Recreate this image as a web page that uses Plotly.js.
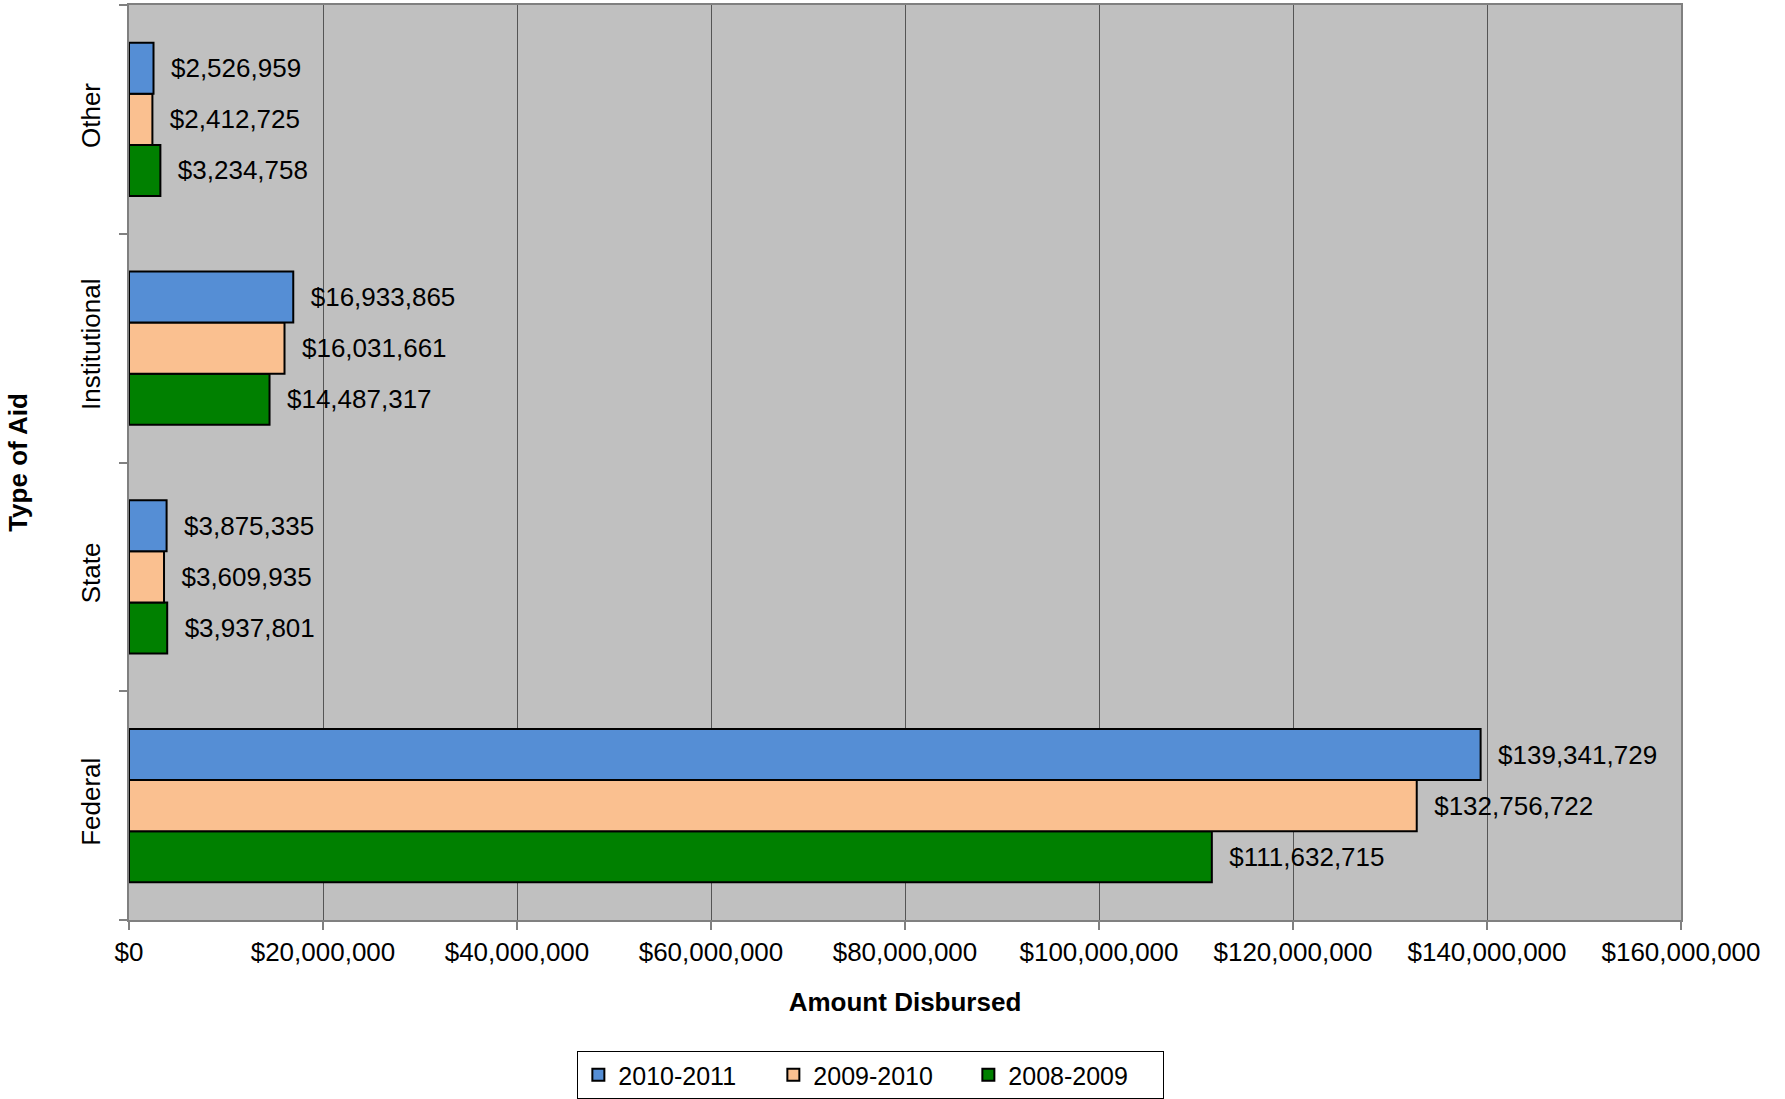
<!DOCTYPE html>
<html>
<head>
<meta charset="utf-8">
<script src="https://cdn.plot.ly/plotly-3.0.1.min.js"></script>
<style>html,body{margin:0;padding:0;background:#fff;}</style>
</head>
<body>
<div id="chart" style="width:1785px;height:1099px;"></div>
<script>
var categories = ['Federal', 'State', 'Institutional', 'Other'];
var seriesNames = ['2008-2009', '2009-2010', '2010-2011'];
var values2008_2009 = [111632715, 3937801, 14487317, 3234758];
var values2009_2010 = [132756722, 3609935, 16031661, 2412725];
var values2010_2011 = [139341729, 3875335, 16933865, 2526959];
var xTickVals = [0, 20000000, 40000000, 60000000, 80000000, 100000000, 120000000, 140000000, 160000000];
var xTickText = xTickVals.map(function (v) { return '$' + v.toLocaleString('en-US'); });

var colors = ['#008000', '#FAC090', '#558ED5'];
var allValues = [values2008_2009, values2009_2010, values2010_2011];
var FONT = '"Liberation Sans", Arial, sans-serif';

var traces = seriesNames.map(function (name, i) {
  return {
    type: 'bar',
    orientation: 'h',
    name: name,
    y: categories,
    x: allValues[i],
    marker: {color: colors[i], line: {color: '#000000', width: 2}},
    texttemplate: '  $%{x:,}',
    textposition: 'outside',
    constraintext: 'none',
    cliponaxis: false,
    textfont: {family: FONT, size: 26, color: '#000000'},
    hoverinfo: 'x+y+name'
  };
});

var layout = {
  width: 1785,
  height: 1099,
  margin: {l: 129, r: 104, t: 5, b: 179},
  paper_bgcolor: '#ffffff',
  plot_bgcolor: '#C0C0C0',
  font: {family: FONT, size: 26, color: '#000000'},
  barmode: 'group',
  bargap: 0.33,
  bargroupgap: 0,
  showlegend: true,
  legend: {
    orientation: 'h',
    traceorder: 'reversed',
    xref: 'paper',
    x: 0.478,
    xanchor: 'center',
    yref: 'container',
    y: 0,
    yanchor: 'bottom',
    bordercolor: '#000000',
    borderwidth: 1,
    bgcolor: '#ffffff',
    entrywidth: 150,
    font: {family: FONT, size: 25, color: '#000000'}
  },
  xaxis: {
    range: [0, 160000000],
    tickmode: 'array',
    tickvals: xTickVals,
    ticktext: xTickText,
    showgrid: true,
    gridcolor: '#555555',
    gridwidth: 1,
    zeroline: false,
    showline: true,
    linecolor: '#808080',
    linewidth: 2,
    mirror: true,
    ticks: 'outside',
    ticklen: 8,
    tickwidth: 2,
    tickcolor: '#808080',
    tickfont: {family: FONT, size: 26, color: '#000000'},
    title: {text: '<b>Amount Disbursed</b>', font: {family: FONT, size: 26, color: '#000000'}, standoff: 27},
    automargin: false,
    fixedrange: true
  },
  yaxis: {
    type: 'category',
    categoryorder: 'array',
    categoryarray: categories,
    showgrid: false,
    zeroline: false,
    showline: true,
    linecolor: '#808080',
    linewidth: 2,
    mirror: true,
    ticks: 'outside',
    tickson: 'boundaries',
    ticklen: 8,
    tickwidth: 2,
    tickcolor: '#808080',
    tickangle: -90,
    ticklabelstandoff: 17,
    tickfont: {family: FONT, size: 26, color: '#000000'},
    title: {text: '<b>Type of Aid</b>', font: {family: FONT, size: 26, color: '#000000'}, standoff: 40},
    automargin: false,
    fixedrange: true
  }
};

Plotly.newPlot('chart', traces, layout, {displayModeBar: false, staticPlot: true});
</script>
</body>
</html>
